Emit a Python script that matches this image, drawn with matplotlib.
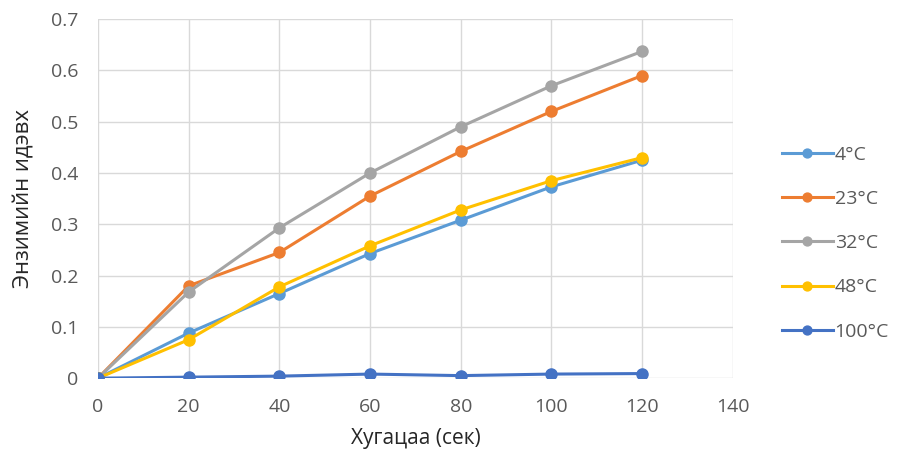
import matplotlib.pyplot as plt

time = [0, 20, 40, 60, 80, 100, 120]
t4 = [0, 0.088, 0.165, 0.243, 0.308, 0.373, 0.425]
t23 = [0, 0.180, 0.245, 0.355, 0.442, 0.520, 0.590]
t32 = [0, 0.168, 0.293, 0.400, 0.490, 0.570, 0.637]
t48 = [0, 0.075, 0.178, 0.258, 0.328, 0.385, 0.430]
t100 = [0, 0.002, 0.004, 0.008, 0.005, 0.008, 0.009]

labels = ["4°C", "23°C", "32°C", "48°C", "100°C"]
colors = ["#5B9BD5", "#ED7D31", "#A5A5A5", "#FFC000", "#4472C4"]

plt.rcParams['font.family'] = ['Open Sans', 'DejaVu Sans']

fig = plt.figure(figsize=(9.07, 4.54), dpi=100)
ax = fig.add_axes([0.108, 0.167, 0.700, 0.791])

for ys, lab, col in zip([t4, t23, t32, t48, t100], labels, colors):
    ax.plot(time, ys, color=col, lw=2.2, marker="o", ms=8, label=lab, zorder=3)

ax.set_xlim(0, 140)
ax.set_xticks(range(0, 141, 20))
ax.set_ylim(0, 0.7)
ax.set_yticks([0, 0.1, 0.2, 0.3, 0.4, 0.5, 0.6, 0.7])
ax.set_yticklabels(["0", "0.1", "0.2", "0.3", "0.4", "0.5", "0.6", "0.7"])
ax.grid(True, color="#D9D9D9", lw=1)
ax.set_axisbelow(True)
for s in ax.spines.values():
    s.set_visible(False)
ax.tick_params(length=0, labelsize=14, labelcolor="#595959")
ax.tick_params(axis="x", pad=14)
ax.tick_params(axis="y", pad=14)

ax.set_xlabel("Хугацаа (сек)", fontsize=15, color="#262626", labelpad=9)
ax.set_ylabel("Энзимийн идэвх", fontsize=16, color="#262626", labelpad=12)

ax.legend(loc="center left", bbox_to_anchor=(1.05, 0.376), frameon=False,
          fontsize=14, labelcolor="#595959", handlelength=2.6, labelspacing=1.35,
          handletextpad=0.1, markerscale=0.8)

fig.savefig("out.png", dpi=100)
